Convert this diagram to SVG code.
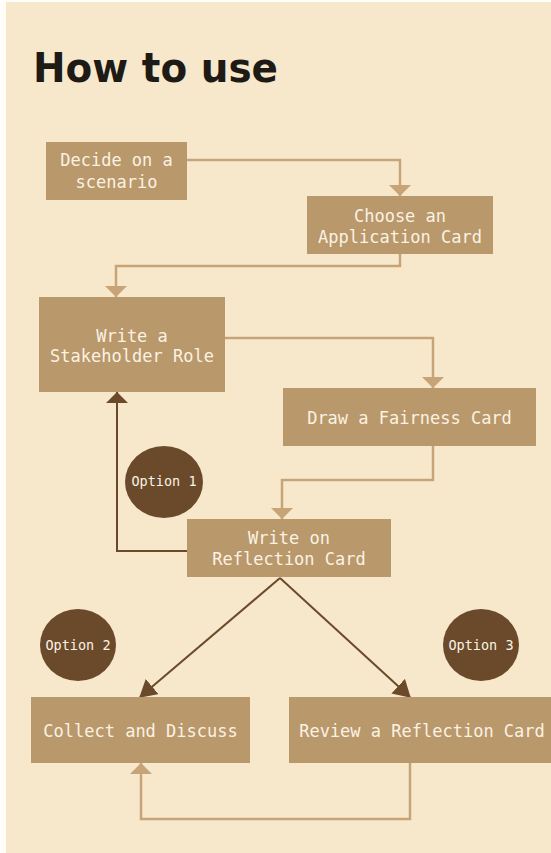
<svg xmlns="http://www.w3.org/2000/svg" width="551" height="853" viewBox="0 0 551 853">
  <style>
    .box { fill: #B9986C; }
    .lbl { font-family: "DejaVu Sans Mono", "Liberation Mono", monospace; font-size: 17px; fill: #FBF2E2; text-anchor: middle; }
    .opt { fill: #6A4A2B; }
    .optlbl { font-family: "DejaVu Sans Mono", "Liberation Mono", monospace; font-size: 13.5px; fill: #FBF2E2; text-anchor: middle; }
    .flow { fill: none; stroke: #C6A478; stroke-width: 2.5; }
    .alt { fill: none; stroke: #6A4A2B; stroke-width: 2; }
    .title { font-family: "DejaVu Sans", "Liberation Sans", sans-serif; font-weight: bold; font-size: 40px; fill: #1E1A16; }
  </style>
  <defs>
    <marker id="headLight" markerUnits="userSpaceOnUse" markerWidth="12" markerHeight="22" refX="11" refY="11" orient="auto" viewBox="0 0 12 22">
      <path d="M0,0 L11,11 L0,22 Z" fill="#C6A478"/>
    </marker>
    <marker id="headDark" markerUnits="userSpaceOnUse" markerWidth="12" markerHeight="22" refX="11" refY="11" orient="auto" viewBox="0 0 12 22">
      <path d="M0,0 L11,11 L0,22 Z" fill="#6A4A2B"/>
    </marker>
    <marker id="headDiag" markerUnits="userSpaceOnUse" markerWidth="18" markerHeight="20" refX="16" refY="10" orient="auto" viewBox="0 0 18 20">
      <path d="M0,0 L17,10 L0,20 Z" fill="#6A4A2B"/>
    </marker>
  </defs>

  <!-- page -->
  <rect x="0" y="0" width="551" height="853" fill="#FFFDF8"/>
  <rect x="6" y="2" width="545" height="851" fill="#F8E8CB"/>

  <text class="title" x="33" y="82" textLength="245" lengthAdjust="spacingAndGlyphs">How to use</text>

  <!-- connectors -->
  <g id="connectors">
    <path class="flow" d="M187,160 H400 V196" marker-end="url(#headLight)"/>
    <path class="flow" d="M400,254 V266 H116 V297" marker-end="url(#headLight)"/>
    <path class="flow" d="M225,338 H433 V388" marker-end="url(#headLight)"/>
    <path class="flow" d="M433,446 V480 H282 V519" marker-end="url(#headLight)"/>
    <path class="alt" d="M187,551 H117 V392" marker-end="url(#headDark)"/>
    <path class="alt" d="M280,578 L140,697" marker-end="url(#headDiag)"/>
    <path class="alt" d="M280,578 L410,697" marker-end="url(#headDiag)"/>
    <path class="flow" d="M410,763 V819 H141 V763" marker-end="url(#headLight)"/>
  </g>

  <!-- steps -->
  <g id="decide">
    <rect class="box" x="46" y="142" width="141" height="58"/>
    <text class="lbl" x="116.5" y="166">Decide on a</text>
    <text class="lbl" x="116.5" y="188">scenario</text>
  </g>
  <g id="choose">
    <rect class="box" x="307" y="196" width="186" height="58"/>
    <text class="lbl" x="400" y="222">Choose an</text>
    <text class="lbl" x="400" y="243">Application Card</text>
  </g>
  <g id="stakeholder">
    <rect class="box" x="39" y="297" width="186" height="95"/>
    <text class="lbl" x="132" y="342">Write a</text>
    <text class="lbl" x="132" y="362">Stakeholder Role</text>
  </g>
  <g id="fairness">
    <rect class="box" x="283" y="388" width="253" height="58"/>
    <text class="lbl" x="409.5" y="424">Draw a Fairness Card</text>
  </g>
  <g id="reflection">
    <rect class="box" x="187" y="519" width="204" height="58"/>
    <text class="lbl" x="289" y="544">Write on</text>
    <text class="lbl" x="289" y="565">Reflection Card</text>
  </g>
  <g id="collect">
    <rect class="box" x="31" y="697" width="219" height="66"/>
    <text class="lbl" x="140.5" y="737">Collect and Discuss</text>
  </g>
  <g id="review">
    <rect class="box" x="289" y="697" width="262" height="66"/>
    <text class="lbl" x="422" y="737">Review a Reflection Card</text>
  </g>

  <!-- option badges -->
  <g id="option1">
    <ellipse class="opt" cx="164" cy="482" rx="39" ry="36"/>
    <text class="optlbl" x="164" y="486">Option 1</text>
  </g>
  <g id="option2">
    <ellipse class="opt" cx="78" cy="645" rx="38" ry="36"/>
    <text class="optlbl" x="78" y="650">Option 2</text>
  </g>
  <g id="option3">
    <ellipse class="opt" cx="481" cy="645" rx="38" ry="36"/>
    <text class="optlbl" x="481" y="650">Option 3</text>
  </g>
</svg>
